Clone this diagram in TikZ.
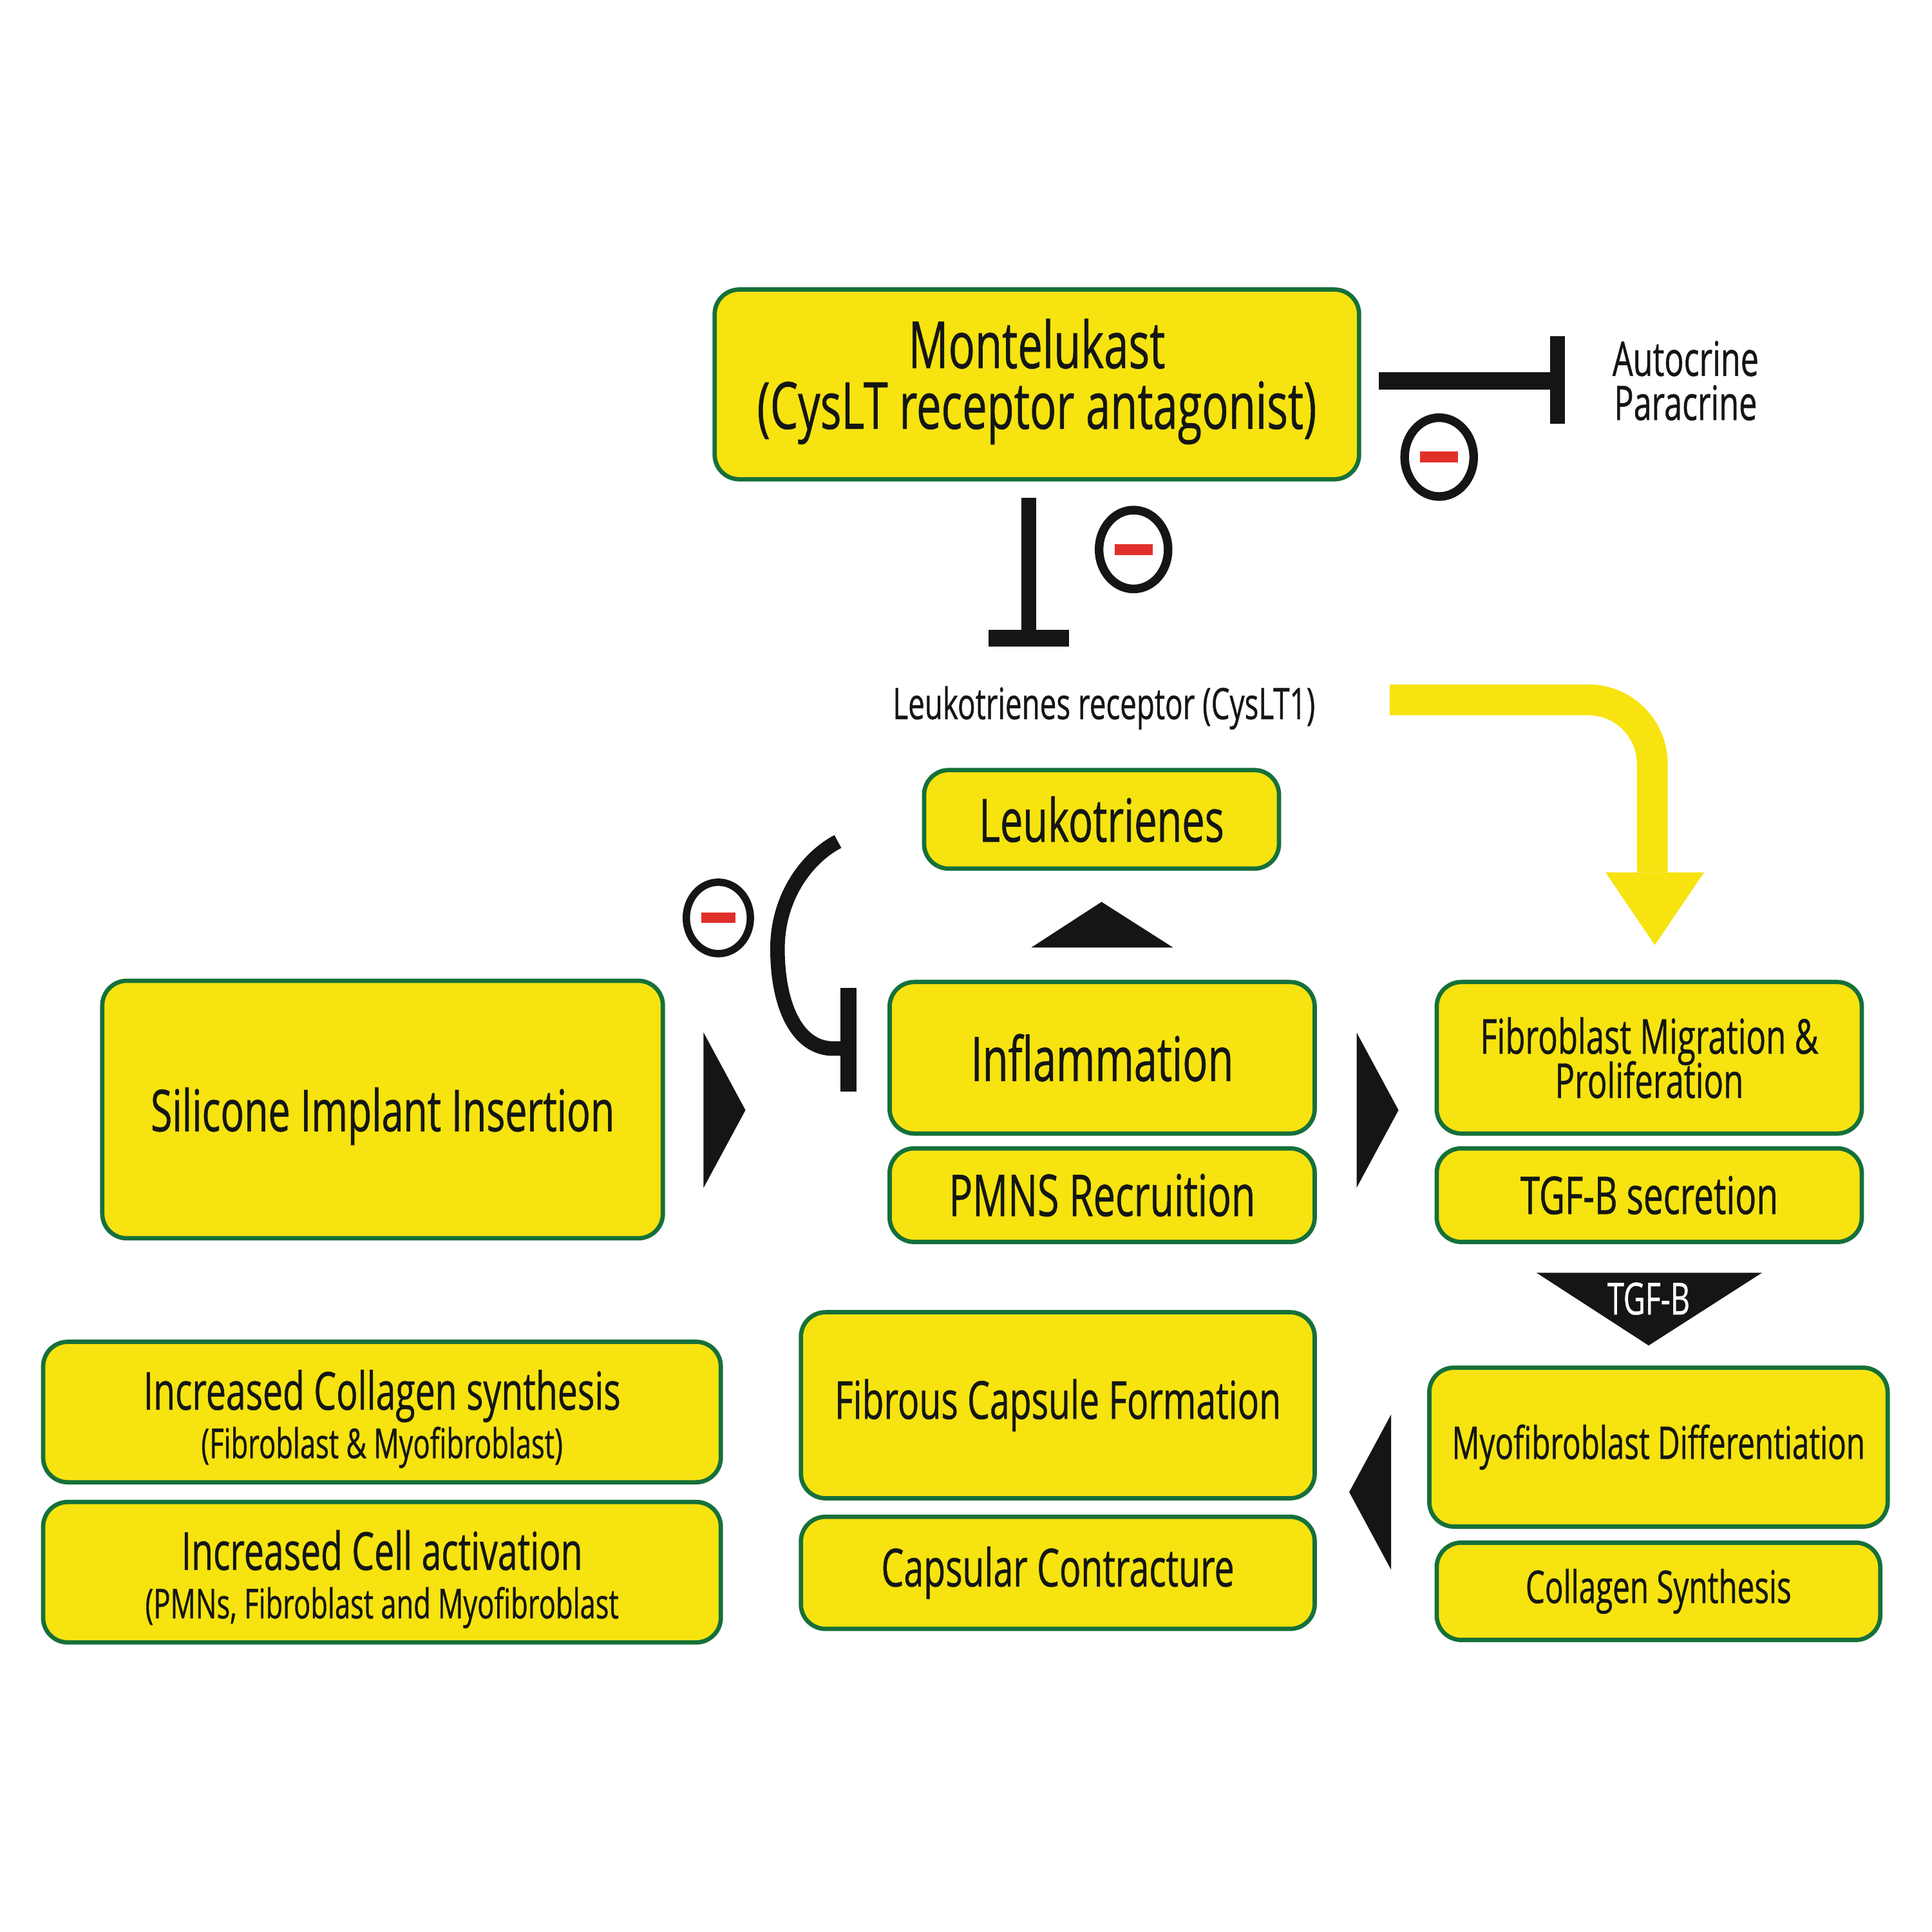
\documentclass[tikz,border=0pt]{standalone}
\usepackage{fontspec}
\setmainfont[FakeStretch=0.68,FakeBold=0.6]{Open Sans}
\usetikzlibrary{calc,positioning,shapes.geometric}
\definecolor{boxyellow}{HTML}{F7E30F}
\definecolor{boxgreen}{HTML}{16703A}
\definecolor{inkblack}{HTML}{131614}
\definecolor{minusred}{HTML}{E0302A}
\newcommand{\fsize}[2]{\fontsize{#1}{#2}\selectfont\lineskiplimit=-20pt }
\newcommand{\dropstrut}[1]{\rule{0pt}{#1}}
\tikzset{
  ybox/.style={draw=boxgreen,fill=boxyellow,line width=1pt,rounded corners=0.2cm,
    align=center,inner sep=0pt,text=inkblack},
  plain/.style={align=center,inner sep=0pt,text=inkblack},
  blocker/.style={draw=inkblack,line width=#1},
  minusring/.style={draw=inkblack,ellipse,fill=white,inner sep=0pt,line width=0.07cm,
    minimum width=0.56cm,minimum height=0.64cm},
  minusbar/.style={fill=minusred,inner sep=0pt,minimum width=0.31cm,minimum height=0.09cm},
}
\begin{document}
\begin{tikzpicture}
    \useasboundingbox (0,0) rectangle (15.68,15.68);
    % --- boxes ---
    \node[ybox,minimum width=5.23cm,minimum height=1.54cm,font=\fsize{15}{14}] (monte) at (8.415,12.56)
      {Montelukast\\(CysLT receptor antagonist)\rule[-4.9pt]{0pt}{1pt}};
    \node[ybox,minimum width=2.88cm,minimum height=0.80cm,font=\fsize{13.8}{14}] (leuko) at (8.94,9.03) {Leukotrienes};
    \node[ybox,minimum width=4.55cm,minimum height=2.09cm,font=\fsize{13.3}{14}] (implant) at (3.105,6.675) {\dropstrut{13.2pt}Silicone Implant Insertion};
    \node[ybox,minimum width=3.45cm,minimum height=1.23cm,font=\fsize{14.2}{14}] (inflam) at (8.945,7.095) {Inflammation};
    \node[ybox,minimum width=3.45cm,minimum height=0.76cm,font=\fsize{13.3}{14}] (pmns) at (8.945,5.98) {PMNS Recruition};
    \node[ybox,minimum width=3.45cm,minimum height=1.23cm,font=\fsize{11.1}{10.2}] (fibro) at (13.385,7.095) {Fibroblast Migration \&\\Proliferation};
    \node[ybox,minimum width=3.45cm,minimum height=0.76cm,font=\fsize{12}{14}] (tgfsec) at (13.385,5.98) {TGF-B secretion};
    \node[ybox,minimum width=3.72cm,minimum height=1.29cm,font=\fsize{10.4}{14}] (myo) at (13.46,3.935) {Myofibroblast Differentiation};
    \node[ybox,minimum width=3.60cm,minimum height=0.79cm,font=\fsize{10.4}{14}] (collsyn) at (13.46,2.765) {Collagen Synthesis};
    \node[ybox,minimum width=4.17cm,minimum height=1.51cm,font=\fsize{12.1}{14}] (capsule) at (8.585,4.275) {Fibrous Capsule Formation};
    \node[ybox,minimum width=4.17cm,minimum height=0.91cm,font=\fsize{12.1}{14}] (contract) at (8.585,2.915) {Capsular Contracture};
    \node[ybox,minimum width=5.50cm,minimum height=1.14cm,font=\fsize{12.1}{11.2}] (collagen) at (3.10,4.22)
      {\dropstrut{12.4pt}Increased Collagen synthesis\\{\fsize{9.5}{11.2}(Fibroblast \& Myofibroblast)}};
    \node[ybox,minimum width=5.50cm,minimum height=1.14cm,font=\fsize{12.1}{11.2}] (cells) at (3.10,2.92)
      {\dropstrut{12.4pt}Increased Cell activation\\{\fsize{9.5}{11.2}(PMNs, Fibroblast and Myofibroblast}};
    % --- free texts ---
    \node[plain,font=\fsize{11}{10.2}] (autoc) at (13.68,12.59) {Autocrine\\Paracrine};
    \node[plain,font=\fsize{10}{12}] (receptor) at (8.96,9.97) {\dropstrut{9.6pt}Leukotrienes receptor (CysLT1)};
    % --- blocking lines ---
    \coordinate (sidestart) at (11.19,12.59);
    \coordinate (sidestop) at (12.64,12.59);
    \coordinate (downstart) at (8.35,11.64);
    \coordinate (downstop) at (8.35,10.50);
    \draw[blocker=0.14cm] (sidestart) -- (sidestop);
    \draw[blocker=0.12cm] ($(sidestop)+(0,0.36)$) -- ($(sidestop)+(0,-0.35)$);
    \draw[blocker=0.12cm] (downstart) -- (downstop);
    \draw[blocker=0.14cm] ($(downstop)+(-0.325,0)$) -- ($(downstop)+(0.325,0)$);
    \coordinate (hooktop) at (6.80,8.85);
    \coordinate (hookstop) at (6.88,7.17);
    \draw[blocker=0.118cm] (hooktop) .. controls (6.55,8.72) and (6.31,8.4) .. (6.31,7.98)
      .. controls (6.31,7.5) and (6.48,7.17) .. (6.76,7.17) -- (hookstop);
    \draw[blocker=0.13cm] (6.885,7.66) -- (6.885,6.82);
    % --- yellow arrow ---
    \coordinate (yellowstart) at (11.28,10.00);
    \coordinate (yellowstop) at (13.41,8.60);
    \draw[boxyellow,line width=0.25cm,rounded corners=0.52cm] (yellowstart) -| (yellowstop);
    \fill[boxyellow] (13.03,8.60) -- (13.83,8.60) -- (13.43,8.01) -- cycle;
    % --- black triangles ---
    \fill[inkblack] (8.37,7.99) -- (9.52,7.99) -- (8.94,8.36) -- cycle;
    \fill[inkblack] (5.71,7.30) -- (5.71,6.04) -- (6.05,6.67) -- cycle;
    \fill[inkblack] (11.01,7.30) -- (11.01,6.04) -- (11.35,6.67) -- cycle;
    \fill[inkblack] (11.29,4.20) -- (11.29,2.94) -- (10.95,3.57) -- cycle;
    \fill[inkblack] (12.47,5.35) -- (14.30,5.35) -- (13.38,4.76) -- cycle;
    \node[plain,text=white,font=\fsize{10.2}{12}] (tgfarrow) at (13.38,5.14) {TGF-B};
    % --- minus signs ---
    \foreach \n/\p in {sideminus/{11.68,11.97},downminus/{9.20,11.22}}{
      \node[minusring] (\n) at (\p) {};
      \node[minusbar] (\n bar) at (\p) {};
    }
    \node[minusring,minimum width=0.52cm,minimum height=0.58cm,line width=0.06cm] (hookminus) at (5.83,8.23) {};
    \node[minusbar,minimum width=0.28cm,minimum height=0.085cm] (hookminusbar) at (5.83,8.23) {};
\end{tikzpicture}
\end{document}
